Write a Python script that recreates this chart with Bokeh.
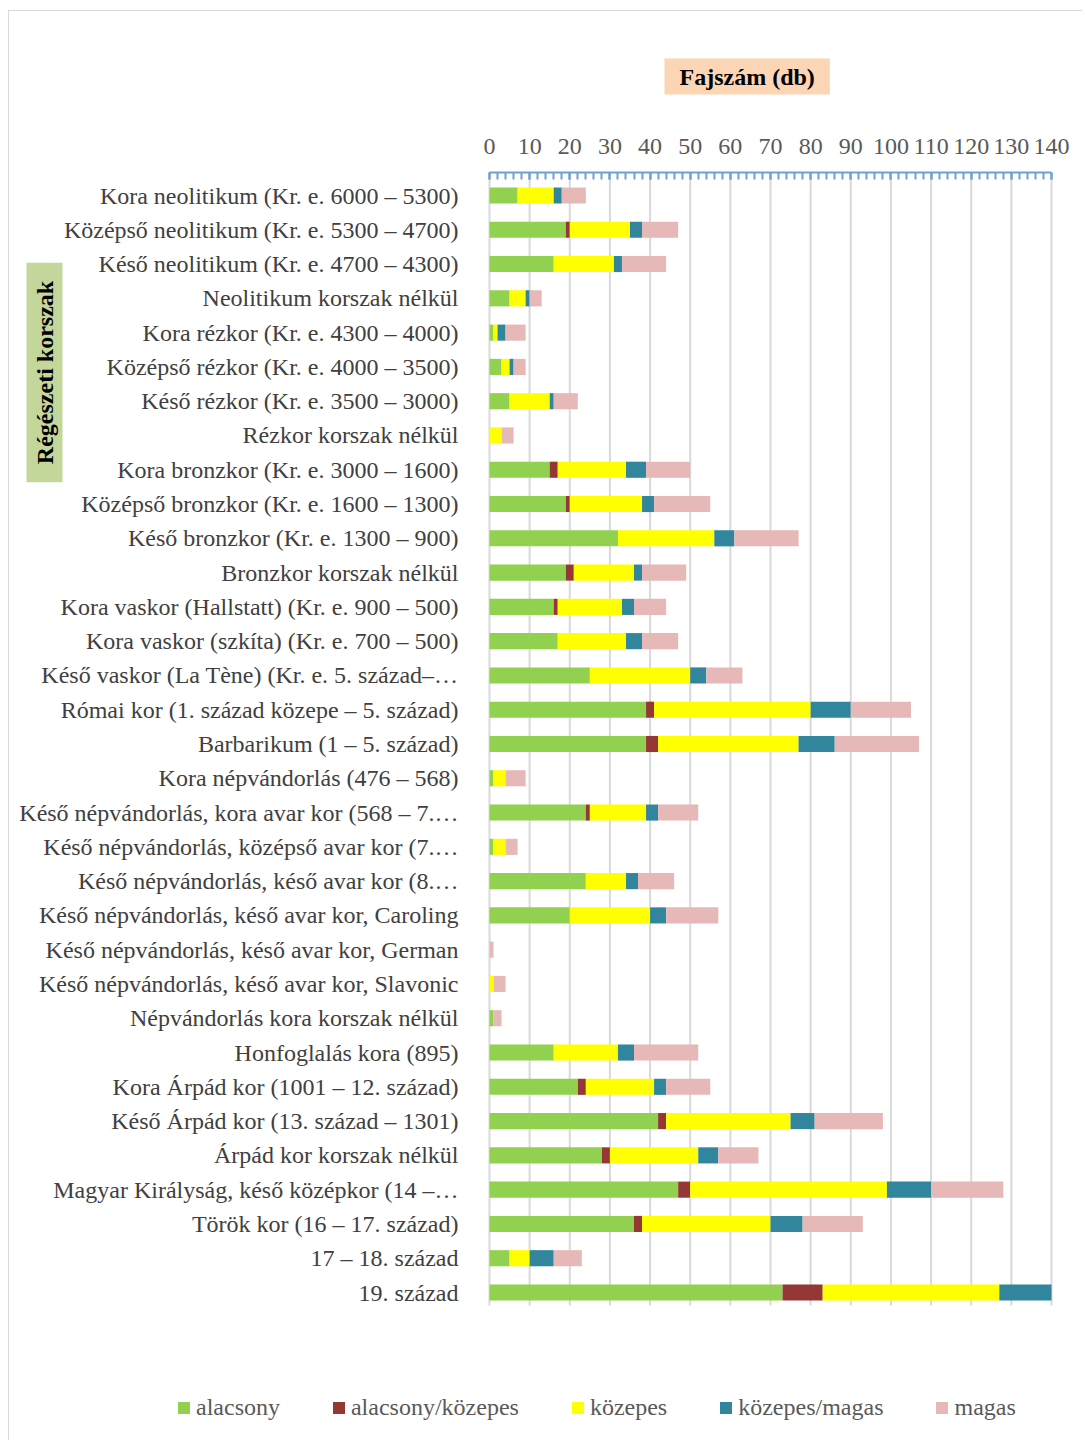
from bokeh.plotting import figure
from bokeh.models import (ColumnDataSource, Range1d, FixedTicker,
                          Label, Legend, LegendItem)
from bokeh.core.properties import value
from bokeh.embed import file_html
from bokeh.resources import INLINE

categories = [
    "Kora neolitikum (Kr. e. 6000 – 5300)",
    "Középső neolitikum (Kr. e. 5300 – 4700)",
    "Késő neolitikum (Kr. e. 4700 – 4300)",
    "Neolitikum korszak nélkül",
    "Kora rézkor (Kr. e. 4300 – 4000)",
    "Középső rézkor (Kr. e. 4000 – 3500)",
    "Késő rézkor (Kr. e. 3500 – 3000)",
    "Rézkor korszak nélkül",
    "Kora bronzkor (Kr. e. 3000 – 1600)",
    "Középső bronzkor (Kr. e. 1600 – 1300)",
    "Késő bronzkor (Kr. e. 1300 – 900)",
    "Bronzkor korszak nélkül",
    "Kora vaskor (Hallstatt) (Kr. e. 900 – 500)",
    "Kora vaskor (szkíta) (Kr. e. 700 – 500)",
    "Késő vaskor (La Tène) (Kr. e. 5. század–…",
    "Római kor (1. század közepe – 5. század)",
    "Barbarikum (1 – 5. század)",
    "Kora népvándorlás (476 – 568)",
    "Késő népvándorlás, kora avar kor (568 – 7.…",
    "Késő népvándorlás, középső avar kor (7.…",
    "Késő népvándorlás, késő avar kor (8.…",
    "Késő népvándorlás, késő avar kor, Caroling",
    "Késő népvándorlás, késő avar kor, German",
    "Késő népvándorlás, késő avar kor, Slavonic",
    "Népvándorlás kora korszak nélkül",
    "Honfoglalás kora (895)",
    "Kora Árpád kor (1001 – 12. század)",
    "Késő Árpád kor (13. század – 1301)",
    "Árpád kor korszak nélkül",
    "Magyar Királyság, késő középkor (14 –…",
    "Török kor (16 – 17. század)",
    "17 – 18. század",
    "19. század",
]

alacsony = [7, 19, 16, 5, 1, 3, 5, 0, 15, 19, 32, 19, 16, 17, 25, 39, 39, 1, 24, 1, 24, 20, 0, 0, 1, 16, 22, 42, 28, 47, 36, 5, 73]
alacsony_kozepes = [0, 1, 0, 0, 0, 0, 0, 0, 2, 1, 0, 2, 1, 0, 0, 2, 3, 0, 1, 0, 0, 0, 0, 0, 0, 0, 2, 2, 2, 3, 2, 0, 10]
kozepes = [9, 15, 15, 4, 1, 2, 10, 3, 17, 18, 24, 15, 16, 17, 25, 39, 35, 3, 14, 3, 10, 20, 0, 1, 0, 16, 17, 31, 22, 49, 32, 5, 44]
kozepes_magas = [2, 3, 2, 1, 2, 1, 1, 0, 5, 3, 5, 2, 3, 4, 4, 10, 9, 0, 3, 0, 3, 4, 0, 0, 0, 4, 3, 6, 5, 11, 8, 6, 13]
magas = [6, 9, 11, 3, 5, 3, 6, 3, 11, 14, 16, 11, 8, 9, 9, 15, 21, 5, 10, 3, 9, 13, 1, 3, 2, 16, 11, 17, 10, 18, 15, 7, 0]

x_ticks = [0, 10, 20, 30, 40, 50, 60, 70, 80, 90, 100, 110, 120, 130, 140]
x_minor_ticks = list(range(0, 141, 2))

series_keys = ["alacsony", "alacsony_kozepes", "kozepes", "kozepes_magas", "magas"]
series_labels = ["alacsony", "alacsony/közepes", "közepes", "közepes/magas", "magas"]
colors = ["#92d050", "#953735", "#ffff00", "#31859c", "#e6b9b8"]

x_axis_title = "Fajszám (db)"
y_axis_title = "Régészeti korszak"

N = len(categories)
row_pos = [N - 1 - i for i in range(N)]   # top category first

source = ColumnDataSource(dict(
    cat=categories,
    pos=row_pos,
    alacsony=alacsony,
    alacsony_kozepes=alacsony_kozepes,
    kozepes=kozepes,
    kozepes_magas=kozepes_magas,
    magas=magas,
))

# ---- layout constants (pixels, page coordinates) ----
W, H = 1074, 1430
ORIGIN_X, ORIGIN_Y = 9, 11          # page position of the figure content
AX0_PAGE, AX140_PAGE = 489, 1051    # page x of value 0 and value 140
FRAME_TOP_PAGE = 172
FRAME_BOTTOM_PAGE = ORIGIN_Y + H
ROW_FIRST_PAGE, ROW_LAST_PAGE = 195, 1292
GRID_BOTTOM_PAGE = 1305

ppu = (AX140_PAGE - AX0_PAGE) / 140.0
x_start = -(AX0_PAGE - ORIGIN_X) / ppu
x_end = x_start + W / ppu

ppr = (ROW_LAST_PAGE - ROW_FIRST_PAGE) / (N - 1)
y_top = (N - 1) + (ROW_FIRST_PAGE - FRAME_TOP_PAGE) / ppr
y_bottom = -(FRAME_BOTTOM_PAGE - ROW_LAST_PAGE) / ppr
grid_bottom = -(GRID_BOTTOM_PAGE - ROW_LAST_PAGE) / ppr

p = figure(
    width=W, height=H,
    y_range=Range1d(y_bottom, y_top),
    x_range=Range1d(x_start, x_end),
    x_axis_location="above", y_axis_location=None,
    output_backend="svg",
    toolbar_location=None,
    min_border_left=0, min_border_right=0,
    min_border_top=FRAME_TOP_PAGE - ORIGIN_Y,
    min_border_bottom=0,
)
p.outline_line_color = None
p.background_fill_color = "white"
p.border_fill_color = "white"
p.xgrid.visible = False
p.ygrid.visible = False

# vertical gridlines at the major ticks
p.segment(x0=x_ticks, x1=x_ticks, y0=[grid_bottom] * len(x_ticks),
          y1=[y_top] * len(x_ticks), line_color="#d9d9d9", line_width=2)

renderers = p.hbar_stack(series_keys, y="pos", height=0.47, color=colors,
                         line_color=None, source=source)

# category labels
p.text(x=0, y="pos", text="cat", source=source, x_offset=-31,
       text_align="right", text_baseline="middle",
       text_font=value("Liberation Serif"), text_font_size="24px",
       text_color="#404040")

# x axis (top)
xa = p.xaxis[0]
xa.ticker = FixedTicker(ticks=x_ticks, minor_ticks=x_minor_ticks)
xa.bounds = (0, 140)
xa.axis_line_color = "#6fa0d8"
xa.axis_line_width = 2
xa.major_tick_line_color = "#6fa0d8"
xa.minor_tick_line_color = "#6fa0d8"
xa.major_tick_line_width = 2
xa.minor_tick_line_width = 2
xa.major_tick_in = 7
xa.major_tick_out = 0
xa.minor_tick_in = 7
xa.minor_tick_out = 0
xa.major_label_text_font = "Liberation Serif"
xa.major_label_text_font_size = "24px"
xa.major_label_text_color = "#595959"
xa.major_label_standoff = 19

# x title (boxed) above the axis
p.title.text = x_axis_title
p.title.align = "left"
p.title.offset = 655
p.title.standoff = 82
p.title.text_font = "Liberation Serif"
p.title.text_font_style = "bold"
p.title.text_font_size = "24px"
p.title.text_color = "black"
p.title.background_fill_color = "#fcd5b4"
p.title.padding = (15, 5)

# y title (boxed, vertical)
p.add_layout(Label(x=44 - ORIGIN_X, y=FRAME_BOTTOM_PAGE - 372,
                   x_units="screen", y_units="screen",
                   text=y_axis_title, text_align="center", text_baseline="middle",
                   angle=90, angle_units="deg",
                   text_font="Liberation Serif", text_font_style="bold",
                   text_font_size="24px", text_color="black",
                   background_fill_color="#c4d79b", padding=(18, 5)))

legend = Legend(items=[LegendItem(label=lab, renderers=[r])
                       for lab, r in zip(series_labels, renderers)])
legend.orientation = "horizontal"
legend.location = (176 - ORIGIN_X, FRAME_BOTTOM_PAGE - 1407 - 14)
legend.padding = 0
legend.margin = 0
legend.spacing = 51
legend.glyph_width = 15
legend.glyph_height = 15
legend.label_standoff = 5
legend.label_text_font = "Liberation Serif"
legend.label_text_font_size = "24px"
legend.label_text_color = "#595959"
legend.border_line_color = None
legend.background_fill_alpha = 0
p.add_layout(legend, "center")

p.styles = {"margin-left": "8px", "margin-top": "10px",
            "border-left": "1px solid #d9d9d9", "border-top": "1px solid #d9d9d9"}

open("out.html", "w").write(file_html(p, INLINE))
